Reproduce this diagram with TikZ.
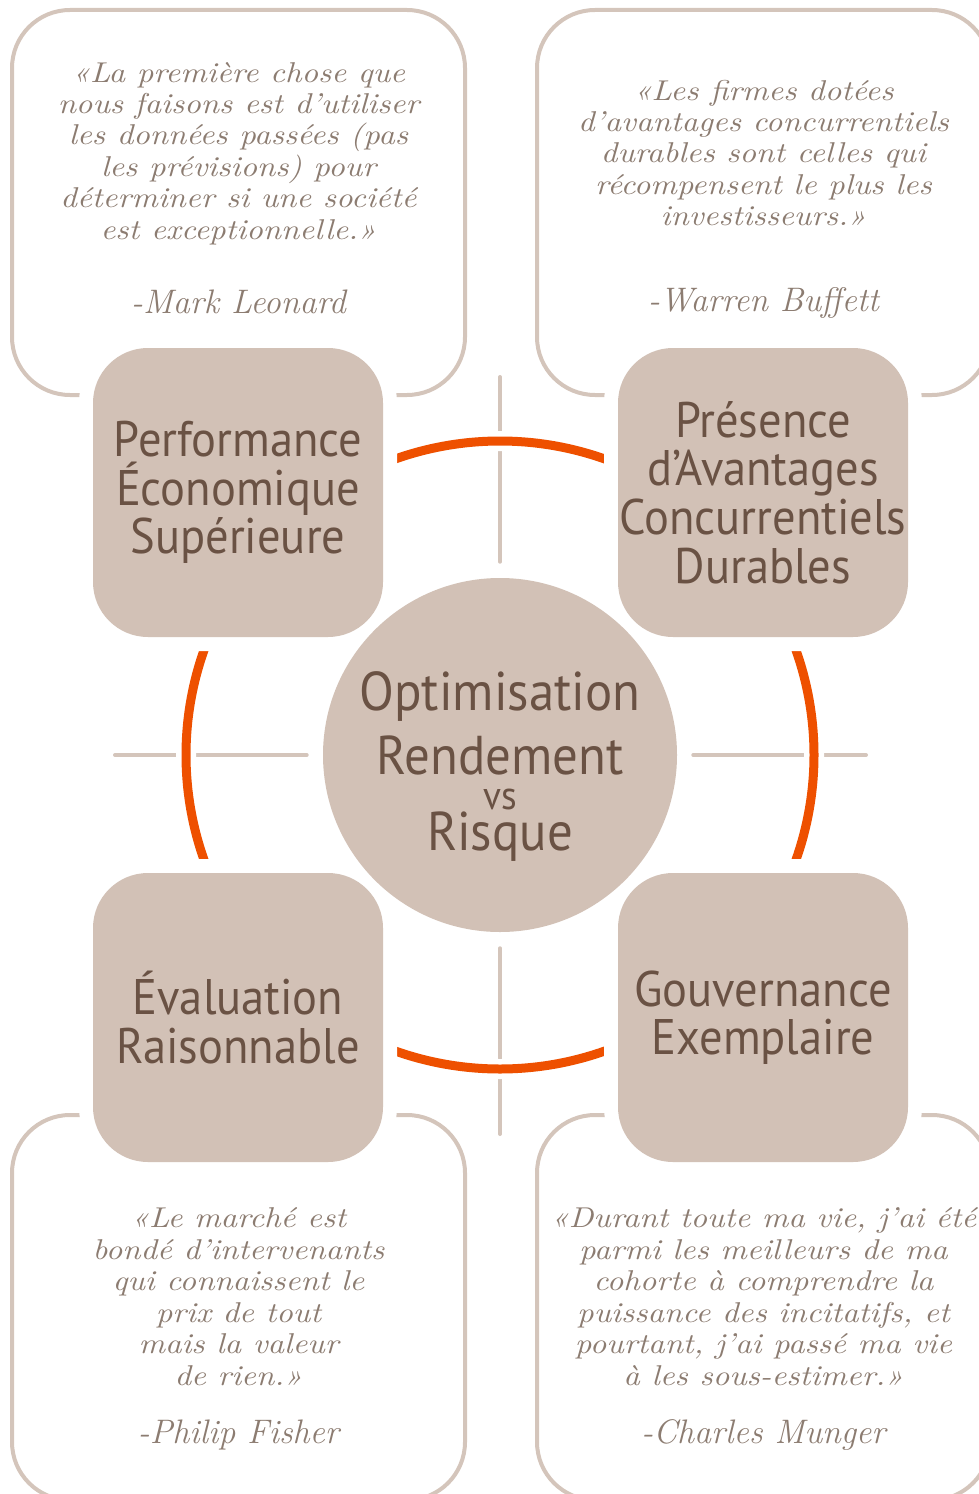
\documentclass[tikz,border=0pt]{standalone}
\usepackage{fontspec}
\newfontfamily\boxfont[FakeStretch=0.93]{PT Sans}
\newfontfamily\quotefont[FakeStretch=1.13]{lmroman10-italic.otf}
\usetikzlibrary{positioning, calc}

\definecolor{sand}{RGB}{210,193,182}
\definecolor{sandline}{RGB}{212,197,187}
\definecolor{cocoa}{RGB}{106,82,68}
\definecolor{quotegray}{RGB}{140,124,113}
\definecolor{flame}{RGB}{238,80,0}

\pgfdeclarelayer{back}
\pgfsetlayers{back,main}

\begin{document}
\begin{tikzpicture}[x=0.75pt, y=-0.75pt]
  \newcommand\ringrad{235.5pt}
  \newcommand\pillargap{21pt} % white margin round the filled boxes

  \tikzset{halo/.style={preaction={draw=white, line width=#1}}}
  \tikzset{quotebox/.style={draw=sandline, line width=3pt, rounded corners=43.5pt, minimum width=339.75pt, minimum height=288.75pt, inner sep=0pt}}
  \tikzset{pillar/.style={halo=\pillargap, fill=sand, rounded corners=41.25pt, minimum width=217.5pt, minimum height=216.75pt, inner sep=0pt, align=center, text=cocoa, font=\boxfont\fontsize{37.5}{36.4}\selectfont}}
  \tikzset{hub/.style={circle, fill=sand, minimum size=265.5pt, inner sep=0pt}}
  \tikzset{hublbl/.style={align=center, text=cocoa, font=\boxfont\fontsize{41}{48}\selectfont}}
  \tikzset{quote/.style={align=center, text=quotegray, font=\quotefont\fontsize{21.5}{23.6}\selectfont}}
  \tikzset{author/.style={text=quotegray, font=\fontsize{25.5}{28}\selectfont\itshape}}
  \tikzset{spoke/.style={draw=sandline, line width=3pt, line cap=round}}
  \tikzset{ring/.style={draw=flame, line width=6.75pt, halo=15pt}}

  \useasboundingbox (0,0) rectangle (978,1494);

  % quote frames
  \node[quotebox] (q1) at (238.5,202.5) {};
  \node[quotebox] (q2) at (763.5,202.5) {};
  \node[quotebox] (q3) at (238.5,1307.5) {};
  \node[quotebox] (q4) at (763.5,1307.5) {};

  \node[quote] (q1-txt) at (238.5,153.5) {«La première chose que\\nous faisons est d’utiliser\\les données passées (pas\\les prévisions) pour\\déterminer si une société\\est exceptionnelle.»};
  \node[quote] (q2-txt) at (763.5,153) {«Les firmes dotées\\d’avantages concurrentiels\\durables sont celles qui\\récompensent le plus les\\investisseurs.»};
  \node[quote] (q3-txt) at (238.5,1296.5) {«Le marché est\\bondé d’intervenants\\qui connaissent le\\prix de tout\\mais la valeur\\de rien.»};
  \node[quote] (q4-txt) at (763.5,1296.5) {«Durant toute ma vie, j’ai été\\parmi les meilleurs de ma\\cohorte à comprendre la\\puissance des incitatifs, et\\pourtant, j’ai passé ma vie\\à les sous-estimer.»};

  \foreach \qid/\px/\py/\who in {1/238.5/302/Mark Leonard, 2/763.5/303/Warren Buffett, 3/238.5/1435/Philip Fisher, 4/763.5/1435/Charles Munger}{
    \node[author] (q\qid-by) at (\px,\py) {-\who};
  }

  % the four pillars
  \node[pillar] (p1) at (238,492.5) {Performance\\Économique\\Supérieure};
  \node[pillar] (p2) at (763,492.5) {Présence\\d’Avantages\\Concurrentiels\\Durables};
  \node[pillar] (p3) at (238,1017.5) {Évaluation\\Raisonnable};
  \node[pillar] (p4) at (763,1017.5) {Gouvernance\\Exemplaire};

  % centre
  \node[hub] (hub) at (500,755) {};
  \node[hublbl] (hub-lbl) at (500,766) {Optimisation\\Rendement\\[-21.75pt]{\fontsize{30}{30}\selectfont vs}\\[-17.25pt]Risque};

  \begin{pgfonlayer}{back}
    \foreach \dir/\px/\py in {north/500/377, south/500/1134, west/115/755, east/866/755}{
      \coordinate (sp-\dir) at (\px,\py);
      \draw[spoke, shorten <=12pt] (hub.\dir) -- (sp-\dir);
    }

    \foreach \a in {0, 90, 180, 270}{
      \draw[ring] ($(hub.center)+(\a-22:\ringrad)$) arc[start angle=\a-22, end angle=\a+22, radius=\ringrad];
    }
  \end{pgfonlayer}
\end{tikzpicture}
\end{document}
